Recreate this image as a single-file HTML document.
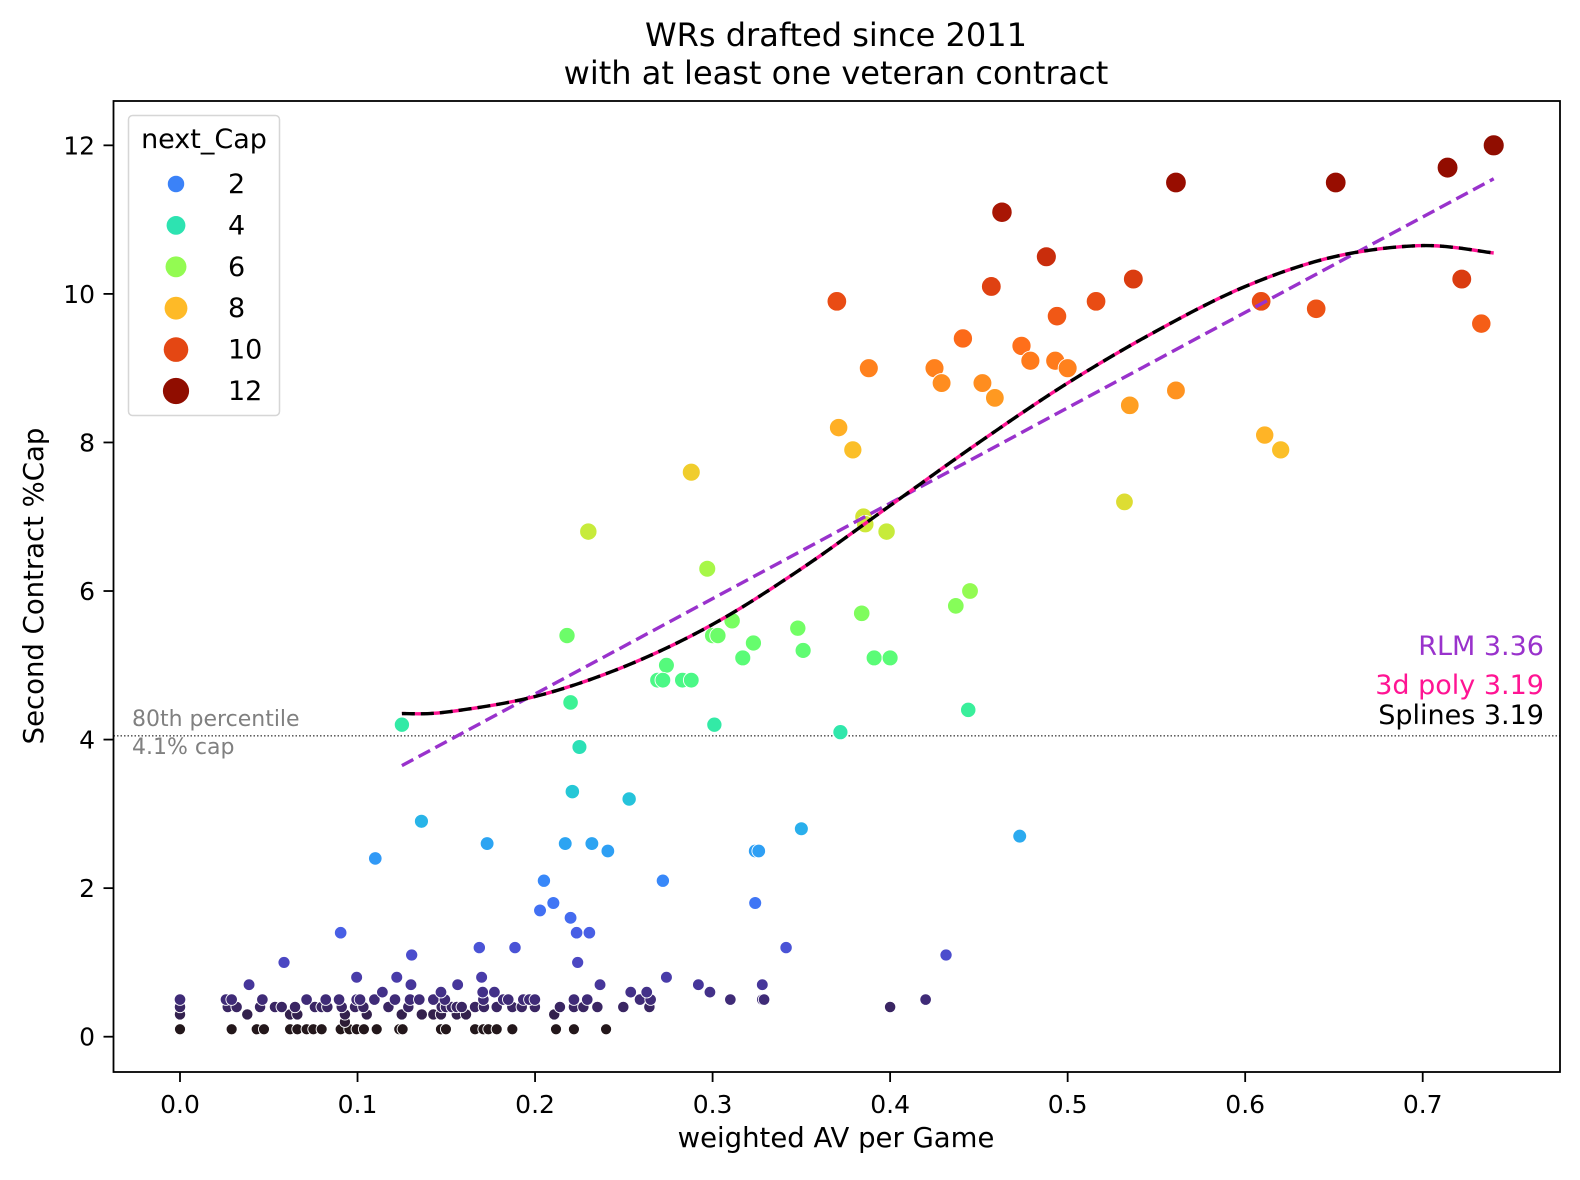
<!DOCTYPE html>
<html><head><meta charset="utf-8">
<style>
html,body{margin:0;padding:0;background:#fff;}
svg{display:block;font-family:"DejaVu Sans","Liberation Sans",sans-serif;}
</style></head>
<body>
<svg id="chart" width="1580" height="1180" viewBox="0 0 1580 1180" xmlns="http://www.w3.org/2000/svg">
<rect x="0" y="0" width="1580" height="1180" fill="#fff"/>
<text x="836" y="46" text-anchor="middle" font-size="32">WRs drafted since 2011</text>
<text x="836" y="84" text-anchor="middle" font-size="32">with at least one veteran contract</text>
<text x="836" y="1147" text-anchor="middle" font-size="27.5">weighted AV per Game</text>
<text x="43" y="586" text-anchor="middle" font-size="27.5" transform="rotate(-90 43 586)">Second Contract %Cap</text>
<g id="ticks"></g>
<g id="plot"></g>
<rect x="113.5" y="101" width="1446.5" height="971" fill="none" stroke="#000" stroke-width="1.8"/>
<g id="legend"></g>
</svg>
<script>
// ---- data ----
const xTicks = [0.0, 0.1, 0.2, 0.3, 0.4, 0.5, 0.6, 0.7];
const yTicks = [0, 2, 4, 6, 8, 10, 12];
const pointX = [
0.740,0.714,0.651,0.561,0.463,0.488,0.537,0.457,0.722,0.370,0.516,0.609,0.640,0.494,0.733,0.441,0.474,0.479,0.493,0.500,0.425,0.388,0.429,0.452,0.459,0.561,0.535,0.371,0.379,0.611,0.620,0.288,0.532,0.230,0.385,0.386,0.398,0.297,0.445,0.437,0.384,0.311,0.218,0.300,0.303,0.348,0.323,0.351,0.317,0.391,0.400,0.274,0.269,0.272,0.283,0.288,0.220,0.125,0.301,0.372,0.444,0.225,0.221,0.253,0.136,0.173,0.217,0.232,0.241,0.324,0.326,0.350,0.473,0.110,0.272,0.205,0.324,
0.0586,0.224,0.1305,0.1686,0.1887,0.0905,0.2234,0.2306,0.220,0.2028,0.2103,0.3414,0.4315,
0.274,0.292,0.2985,0.310,0.328,0.328,0.329,0.400,0.420,
0.0,0.0291,0.0432,0.0473,0.0620,0.0661,0.0713,0.0751,0.0798,0.0905,0.0954,0.0995,0.1036,0.1108,0.1235,0.1254,0.1470,0.1498,0.1662,0.1709,0.1737,0.1784,0.1872,0.2118,0.2219,0.2400,
0.0929,
0.0,0.0379,0.0620,0.0661,0.0929,0.1052,0.1249,0.1362,0.1427,0.1470,0.1559,0.1611,0.2108,
0.0,0.0269,0.0319,0.0451,0.0535,0.0573,0.0648,0.0760,0.0798,0.0830,0.0911,0.0986,0.1033,0.1174,0.1286,0.1474,0.1498,0.1531,0.1559,0.1587,0.1662,0.1712,0.1784,0.1872,0.1925,0.1999,0.2140,0.2219,0.2272,0.2351,0.2497,0.2644,
0.0,0.0259,0.0291,0.0464,0.0713,0.0821,0.0896,0.0995,0.1014,0.1095,0.1211,0.1296,0.1348,0.1427,0.1492,0.1709,0.1821,0.1849,0.1934,0.1968,0.1999,0.2219,0.2294,0.2591,0.2651,
0.1140,0.1470,0.1705,0.1771,0.2539,0.2629,
0.0389,0.1301,0.1564,0.2366,
0.0995,0.1221,0.1699
];
const pointY = [
12.0,11.7,11.5,11.5,11.1,10.5,10.2,10.1,10.2,9.9,9.9,9.9,9.8,9.7,9.6,9.4,9.3,9.1,9.1,9.0,9.0,9.0,8.8,8.8,8.6,8.7,8.5,8.2,7.9,8.1,7.9,7.6,7.2,6.8,7.0,6.9,6.8,6.3,6.0,5.8,5.7,5.6,5.4,5.4,5.4,5.5,5.3,5.2,5.1,5.1,5.1,5.0,4.8,4.8,4.8,4.8,4.5,4.2,4.2,4.1,4.4,3.9,3.3,3.2,2.9,2.6,2.6,2.6,2.5,2.5,2.5,2.8,2.7,2.4,2.1,2.1,1.8,
1.0,1.0,1.1,1.2,1.2,1.4,1.4,1.4,1.6,1.7,1.8,1.2,1.1,
0.8,0.7,0.6,0.5,0.7,0.5,0.5,0.4,0.5,
0.1,0.1,0.1,0.1,0.1,0.1,0.1,0.1,0.1,0.1,0.1,0.1,0.1,0.1,0.1,0.1,0.1,0.1,0.1,0.1,0.1,0.1,0.1,0.1,0.1,0.1,
0.2,
0.3,0.3,0.3,0.3,0.3,0.3,0.3,0.3,0.3,0.3,0.3,0.3,0.3,
0.4,0.4,0.4,0.4,0.4,0.4,0.4,0.4,0.4,0.4,0.4,0.4,0.4,0.4,0.4,0.4,0.4,0.4,0.4,0.4,0.4,0.4,0.4,0.4,0.4,0.4,0.4,0.4,0.4,0.4,0.4,0.4,
0.5,0.5,0.5,0.5,0.5,0.5,0.5,0.5,0.5,0.5,0.5,0.5,0.5,0.5,0.5,0.5,0.5,0.5,0.5,0.5,0.5,0.5,0.5,0.5,0.5,
0.6,0.6,0.6,0.6,0.6,0.6,
0.7,0.7,0.7,0.7,
0.8,0.8,0.8
];
const rlmX = [0.125, 0.740];
const rlmY = [3.65, 11.55];
const fitX = [0.125,0.15,0.2,0.25,0.3,0.35,0.4,0.45,0.5,0.55,0.6,0.65,0.7,0.74];
const polyY = [4.35,4.37,4.58,4.98,5.55,6.3,7.15,8.0,8.8,9.5,10.1,10.5,10.65,10.55];
const splineY = [4.35,4.37,4.58,4.98,5.55,6.3,7.15,8.0,8.8,9.5,10.1,10.5,10.65,10.55];
const percentileY = 4.05;
const legendValues = [2,4,6,8,10,12];
const hueMin = 0.1, hueMax = 12;

// ---- scales ----
const NS = "http://www.w3.org/2000/svg";
function sx(v){ return 180 + v*1775.3; }
function sy(v){ return 1036.7 - v*74.28; }
function turbo(t){
  t=Math.max(0,Math.min(1,t));
  const r=0.13572138+t*(4.61539260+t*(-42.66032258+t*(132.13108234+t*(-152.94239396+t*59.28637943))));
  const g=0.09140261+t*(2.19418839+t*(4.84296658+t*(-14.18503333+t*(4.27729857+t*2.82956604))));
  const b=0.10667330+t*(12.64194608+t*(-60.58204836+t*(110.36276771+t*(-89.90310912+t*27.34824973))));
  const c=v=>Math.round(Math.max(0,Math.min(1,v))*255);
  return "rgb("+c(r)+","+c(g)+","+c(b)+")";
}
function colorOf(v){ return turbo((v-hueMin)/(hueMax-hueMin)); }
function radiusOf(v){ return Math.sqrt(30 + v*80/12); }
function mk(tag, attrs, parent){
  const e=document.createElementNS(NS,tag);
  for(const k in attrs) e.setAttribute(k, attrs[k]);
  parent.appendChild(e); return e;
}
const ticksG=document.getElementById('ticks');
const plotG=document.getElementById('plot');
const legG=document.getElementById('legend');

// ticks
xTicks.forEach(v=>{
  const l=mk('line',{x1:sx(v),x2:sx(v),y1:1072,y2:1082,stroke:'#000','stroke-width':1.8},ticksG);
  
  
  const t=mk('text',{x:sx(v),y:1113,'text-anchor':'middle','font-size':25},ticksG);
  t.textContent=v.toFixed(1);
  
  
});
yTicks.forEach(v=>{
  const l=mk('line',{x1:103.5,x2:113.5,y1:sy(v),y2:sy(v),stroke:'#000','stroke-width':1.8},ticksG);
  
  
  const t=mk('text',{x:95,y:sy(v)+9,'text-anchor':'end','font-size':25},ticksG);
  t.textContent=String(v);
  
  
});

// percentile line
const pl=mk('line',{x1:113.5,x2:1560,y1:sy(percentileY),y2:sy(percentileY),stroke:'#000','stroke-width':1,'stroke-dasharray':'1.5,2'},plotG);


const pt1=mk('text',{x:132,y:sy(percentileY)-10,'font-size':22,fill:'#808080'},plotG);
pt1.textContent='80th percentile';


const pt2=mk('text',{x:132,y:sy(percentileY)+18,'font-size':22,fill:'#808080'},plotG);
pt2.textContent='4.1% cap';



// points
for(let i=0;i<pointX.length;i++){
  const c=mk('circle',{cx:sx(pointX[i]),cy:sy(pointY[i]),r:radiusOf(pointY[i]),fill:colorOf(pointY[i]),stroke:'#fff','stroke-width':0.9},plotG);
  
  
}

// fit lines (smooth Catmull-Rom through sample points)
function pathFrom(xs,ys){
  const P=xs.map((x,i)=>[sx(x),sy(ys[i])]);
  let d='M'+P[0][0].toFixed(1)+','+P[0][1].toFixed(1);
  for(let i=0;i<P.length-1;i++){
    const p0=P[Math.max(0,i-1)],p1=P[i],p2=P[i+1],p3=P[Math.min(P.length-1,i+2)];
    const c1=[p1[0]+(p2[0]-p0[0])/6,p1[1]+(p2[1]-p0[1])/6];
    const c2=[p2[0]-(p3[0]-p1[0])/6,p2[1]-(p3[1]-p1[1])/6];
    d+=' C'+c1[0].toFixed(1)+','+c1[1].toFixed(1)+' '+c2[0].toFixed(1)+','+c2[1].toFixed(1)+' '+p2[0].toFixed(1)+','+p2[1].toFixed(1);
  }
  return d;
}
const rl=mk('path',{d:pathFrom(rlmX,rlmY),fill:'none',stroke:'#9932cc','stroke-width':3.4,'stroke-dasharray':'13,6'},plotG);


const pp=mk('path',{d:pathFrom(fitX,polyY),fill:'none',stroke:'#ff1493','stroke-width':3.4,'stroke-dasharray':'13,6','stroke-dashoffset':9},plotG);


const sp=mk('path',{d:pathFrom(fitX,splineY),fill:'none',stroke:'#000','stroke-width':3.4,'stroke-dasharray':'13,6'},plotG);



// score labels
const s1=mk('text',{x:1544,y:655,'text-anchor':'end','font-size':27,fill:'#9932cc'},plotG);
s1.textContent='RLM 3.36';


const s2=mk('text',{x:1544,y:694,'text-anchor':'end','font-size':27,fill:'#ff1493'},plotG);
s2.textContent='3d poly 3.19';


const s3=mk('text',{x:1544,y:724,'text-anchor':'end','font-size':27,fill:'#000'},plotG);
s3.textContent='Splines 3.19';



// legend
const lb=mk('rect',{x:128.5,y:115.5,width:151,height:300,rx:4,fill:'#fff','fill-opacity':0.8,stroke:'#d6d6d6','stroke-width':1.5},legG);


const lt=mk('text',{x:204,y:148,'text-anchor':'middle','font-size':27},legG);
lt.textContent='next_Cap';


legendValues.forEach((v,i)=>{
  const y=184+i*41.4;
  const c=mk('circle',{cx:176,cy:y,r:radiusOf(v)*1.25,fill:colorOf(v)},legG);
  
  
  const t=mk('text',{x:228,y:y+9,'font-size':27},legG);
  t.textContent=String(v);
  
  
});
</script>
</body></html>
